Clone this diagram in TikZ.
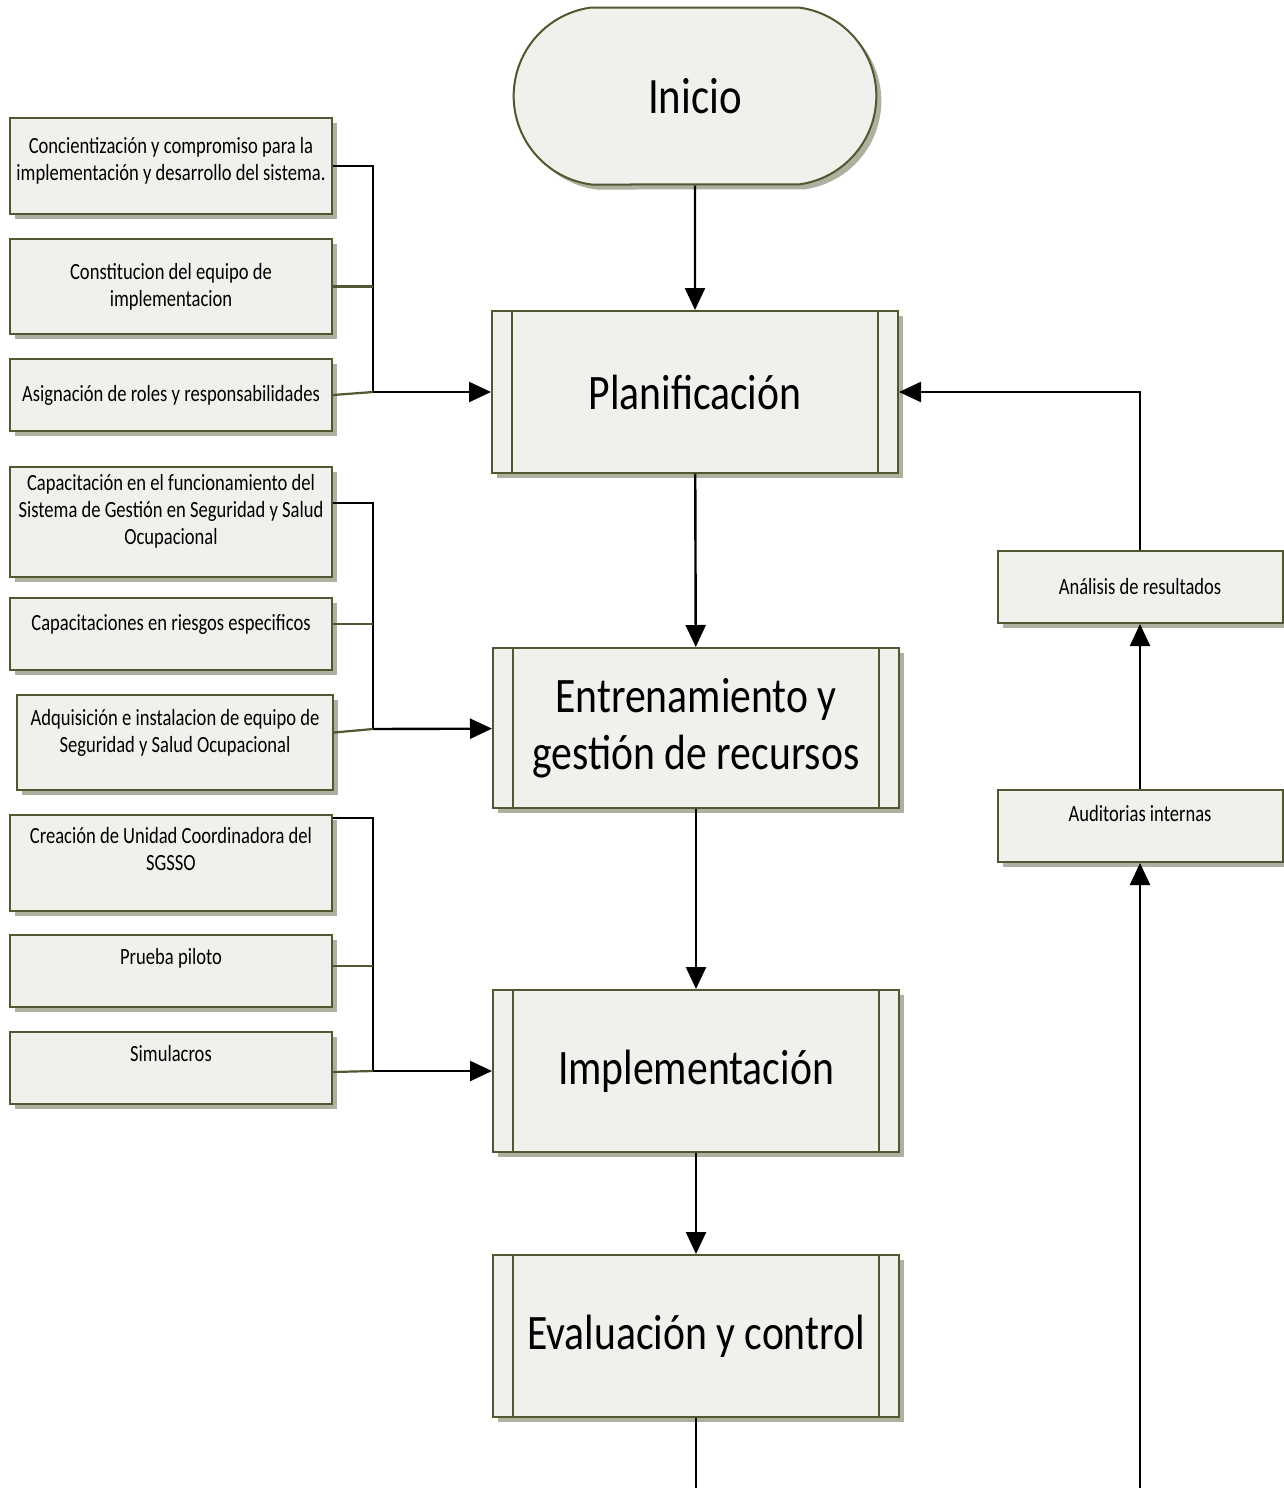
\documentclass[tikz,border=0pt]{standalone}
\usepackage{fontspec}
\setmainfont{Carlito}
\newfontfamily\boxfont[FakeStretch=0.84]{Carlito}
\newfontfamily\notefont[FakeStretch=0.8]{Carlito}
\usetikzlibrary{positioning, arrows.meta, shapes.misc, shadows}

\definecolor{boxfill}{RGB}{239,241,236}
\definecolor{boxline}{RGB}{79,88,48}
\definecolor{boxshade}{RGB}{165,167,150}

\tikzset{
  basebox/.style={draw=boxline, line width=1pt, fill=boxfill, align=center,
    drop shadow={shadow xshift=2.5pt, shadow yshift=-2.5pt, fill=boxshade, opacity=.9}},
  sidebox/.style={basebox, minimum width=161pt, inner xsep=1pt,
    font=\notefont\fontsize{11.6}{13.5}\selectfont},
  process/.style={basebox, minimum width=203pt, minimum height=81pt,
    font=\boxfont\fontsize{24.8}{28.5}\selectfont,
    path picture={
      \draw[boxline, line width=.8pt]
        ([xshift=10pt]path picture bounding box.north west) -- ([xshift=10pt]path picture bounding box.south west)
        ([xshift=-10pt]path picture bounding box.north east) -- ([xshift=-10pt]path picture bounding box.south east);}},
  terminal/.style={basebox, rounded rectangle, rounded rectangle arc length=165,
    minimum width=188pt, minimum height=88.5pt, font=\boxfont\fontsize{25.5}{28}\selectfont},
  txtup/.style={execute at end node={\rule[-#1]{0pt}{#1}}},
  flow/.style={-{Triangle[length=11pt, width=10pt]}, line width=1.2pt},
  feed/.style={line width=1.2pt},
  stub/.style={line width=1.1pt, draw=boxline},
}

\begin{document}
\begin{tikzpicture}[x=0.5pt, y=-0.5pt]
  \useasboundingbox (0,0) rectangle (1284,1488);
  \clip (0,0) rectangle (1284,1488);

  % Main flow
  \node[terminal] (inicio) at (695,96) {Inicio};
  \node[process] (plan) at (695,392) {Planificación};
  \node[process, minimum height=80pt] (entren) at (696,728) {Entrenamiento y\\gestión de recursos};
  \node[process] (implem) at (696,1071) {Implementación};
  \node[process] (evalua) at (696,1336) {Evaluación y control};

  % Review loop boxes
  \node[sidebox, minimum width=142.5pt, minimum height=36pt] (analisis) at (1140,587) {Análisis de resultados};
  \node[sidebox, minimum width=142.5pt, minimum height=36pt, txtup=13pt] (auditoria) at (1140,826) {Auditorias internas};

  % Planning tasks
  \node[sidebox, minimum height=48pt, txtup=7pt] (tarea1) at (171,166)
    {Concientización y compromiso para la\\implementación y desarrollo del sistema.};
  \node[sidebox, minimum height=47.5pt] (tarea2) at (171,286.5)
    {Constitucion del equipo de\\implementacion};
  \node[sidebox, minimum height=36pt] (tarea3) at (171,395)
    {Asignación de roles y responsabilidades};

  % Training tasks
  \node[sidebox, minimum height=54pt, txtup=13pt] (tarea4) at (171,522)
    {Capacitación en el funcionamiento del\\Sistema de Gestión en Seguridad y Salud\\Ocupacional};
  \node[sidebox, minimum height=36pt, txtup=12pt] (tarea5) at (171,634)
    {Capacitaciones en riesgos especificos};
  \node[sidebox, minimum width=158pt, minimum height=47.5pt, txtup=12pt] (tarea6) at (175,742.5)
    {Adquisición e instalacion de equipo de\\Seguridad y Salud Ocupacional};

  % Implementation tasks
  \node[sidebox, minimum height=48pt, txtup=14pt] (tarea7) at (171,863)
    {Creación de Unidad Coordinadora del\\SGSSO};
  \node[sidebox, minimum height=36pt, txtup=15pt] (tarea8) at (171,971) {Prueba piloto};
  \node[sidebox, minimum height=36pt, txtup=15pt] (tarea9) at (171,1068) {Simulacros};

  % Junctions on the left buses
  \coordinate (bus1) at (373,392);
  \coordinate (bus2) at (373,729);
  \coordinate (bus3) at (373,1071);
  \coordinate (j4) at (373,503);
  \coordinate (j5) at (373,624);
  \coordinate (j7) at (373,818);
  \coordinate (j8) at (373,966);
  \coordinate (loopturn) at (1140,1560);

  % Left feeds
  \draw[feed] (tarea1.east) -| (bus1);
  \draw[stub] (tarea2.east) -- (tarea2.east -| bus1);
  \draw[stub] (tarea3.east) -- (bus1);
  \draw[flow] (bus1) -- (plan);

  \draw[feed] (tarea4.east |- j4) -- (j4) -- (bus2);
  \draw[stub] (tarea5.east |- j5) -- (j5);
  \draw[stub] ([yshift=5pt]tarea6.east) -- (bus2);
  \draw[flow] (bus2) -- (entren);

  \draw[feed] (tarea7.east |- j7) -- (j7) -- (bus3);
  \draw[stub] (tarea8.east |- j8) -- (j8);
  \draw[stub] ([yshift=-2pt]tarea9.east) -- (bus3);
  \draw[flow] (bus3) -- (implem);

  % Main arrows
  \draw[flow] (inicio) -- (plan);
  \draw[flow] (plan) -- (entren);
  \draw[flow] (entren) -- (implem);
  \draw[flow] (implem) -- (evalua);

  % Feedback loop
  \draw[flow] (evalua) |- (loopturn) -- (auditoria);
  \draw[flow] (auditoria) -- (analisis);
  \draw[flow] (analisis) |- (plan);
\end{tikzpicture}
\end{document}
